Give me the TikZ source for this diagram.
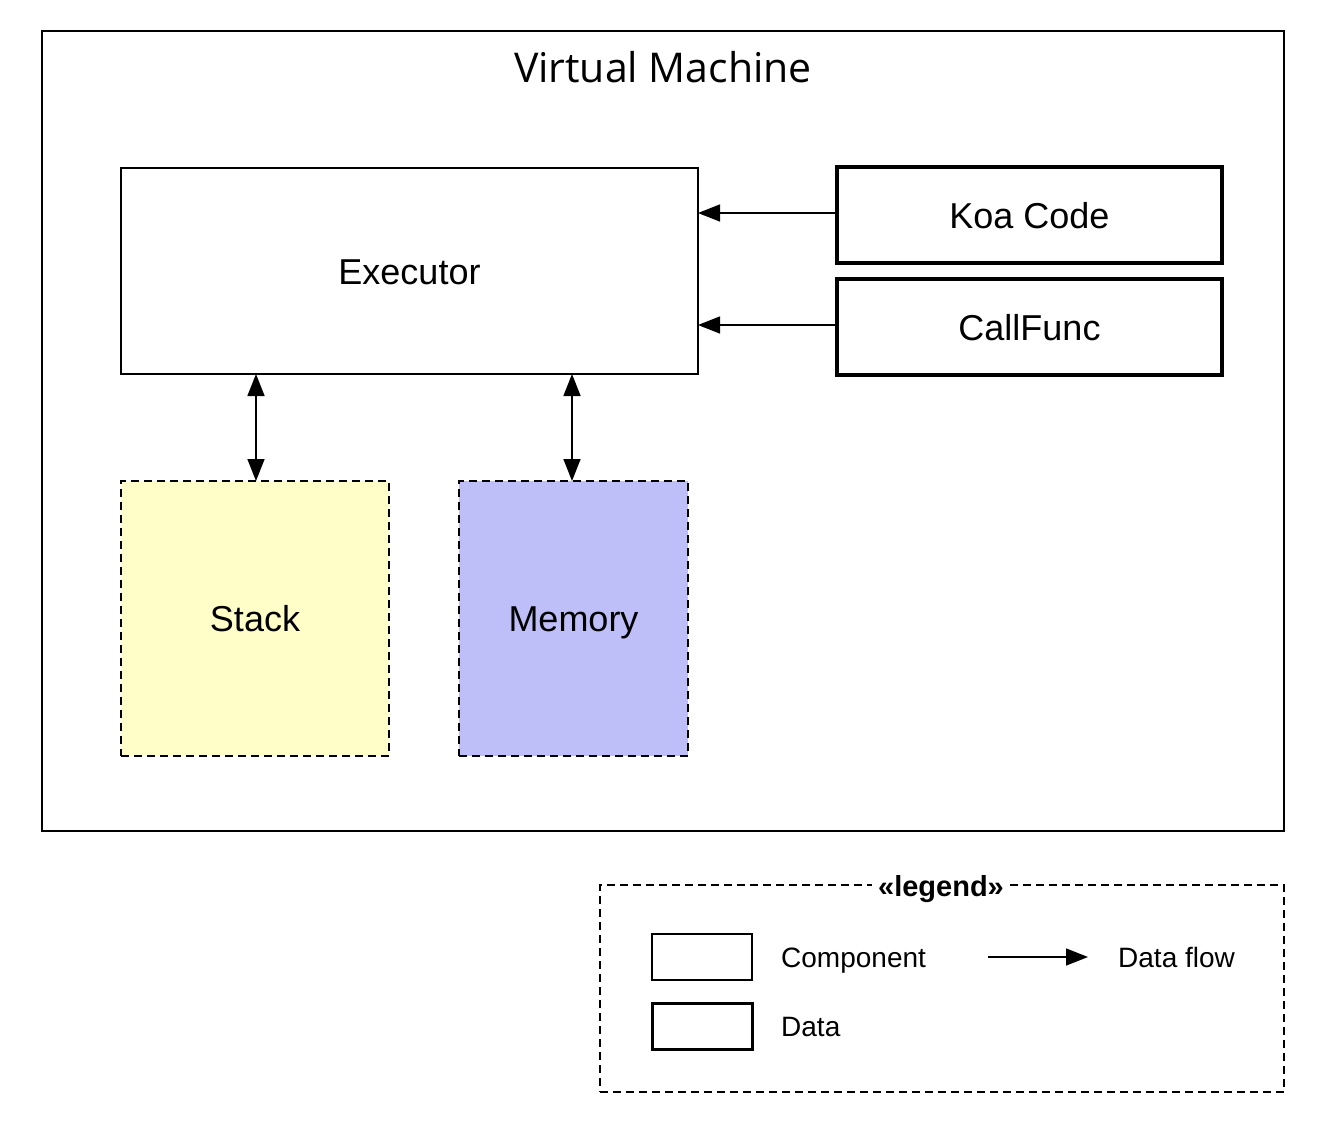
\documentclass[tikz,border=0pt]{standalone}
\usepackage{fontspec}
\setmainfont{Liberation Sans}
\newfontfamily\titlefont{Open Sans}
\usetikzlibrary{arrows.meta}
\definecolor{stackfill}{RGB}{255,253,200}
\definecolor{memfill}{RGB}{190,191,248}
\tikzset{
  bigtext/.style={font=\fontsize{36}{40}\selectfont, text height=26pt, text depth=0pt},
  comp/.style={draw, line width=1.5pt, outer sep=0pt, inner sep=0pt, bigtext},
  datab/.style={draw, line width=3.5pt, outer sep=0pt, inner sep=0pt, bigtext},
  store/.style={draw, line width=1.5pt, dash pattern=on 8pt off 5pt, outer sep=0pt, inner sep=0pt, bigtext},
  flow/.style={line width=1.5pt, -{Triangle[length=22pt,width=17pt]}},
  biflow/.style={line width=1.5pt, {Triangle[length=22pt,width=17pt]}-{Triangle[length=22pt,width=17pt]}},
  legtext/.style={anchor=west, inner sep=0pt, font=\fontsize{28}{32}\selectfont, text height=20pt, text depth=0pt},
}
\begin{document}
\begin{tikzpicture}[x=1pt,y=-1pt]
\useasboundingbox (0,0) rectangle (1320,1122);
% outer frame
\node[draw, line width=1.5pt, outer sep=0pt, minimum width=1242pt, minimum height=800pt] (vm) at (663,431) {};
\node[inner sep=0pt, font=\titlefont\fontsize{41}{46}\selectfont] (vmtitle) at (663,67) {Virtual Machine};
% components
\node[comp, minimum width=577pt, minimum height=206pt] (exec) at (409.5,271) {Executor};
\node[datab, minimum width=385pt, minimum height=96pt] (koa) at (1029.5,215) {Koa Code};
\node[datab, minimum width=385pt, minimum height=96pt] (call) at (1029.5,327) {CallFunc};
\node[store, fill=stackfill, minimum width=268pt, minimum height=275pt] (stack) at (255,618.5) {Stack};
\node[store, fill=memfill, minimum width=229pt, minimum height=275pt] (mem) at (573.5,618.5) {Memory};
% connectors
\draw[flow] (koa.west |- 0,213) -- (exec.east |- 0,213);
\draw[flow] (call.west |- 0,325) -- (exec.east |- 0,325);
\draw[biflow] (exec.south -| 256,0) -- (stack.north -| 256,0);
\draw[biflow] (exec.south -| 572,0) -- (mem.north -| 572,0);
% legend
\node[draw, line width=1.5pt, dash pattern=on 8pt off 5pt, outer sep=0pt, minimum width=684pt, minimum height=207pt] (legend) at (942,988.5) {};
\node[fill=white, inner sep=6pt, font=\bfseries\fontsize{29}{32}\selectfont, text height=21pt, text depth=0pt] (legtitle) at (941,886) {«legend»};
\node[draw, line width=1.5pt, outer sep=0pt, minimum width=100pt, minimum height=46pt] (legcomp) at (702,957) {};
\node[draw, line width=3.5pt, outer sep=0pt, minimum width=100pt, minimum height=46pt] (legdata) at (702.5,1026.5) {};
\node[legtext] (legcomptext) at (781,957) {Component};
\node[legtext] (legdatatext) at (781,1026.5) {Data};
\coordinate (dfa) at (988,957);
\coordinate (dfb) at (1088,957);
\draw[flow] (dfa) -- (dfb);
\node[legtext] (legflowtext) at (1118,957) {Data flow};
\end{tikzpicture}
\end{document}
